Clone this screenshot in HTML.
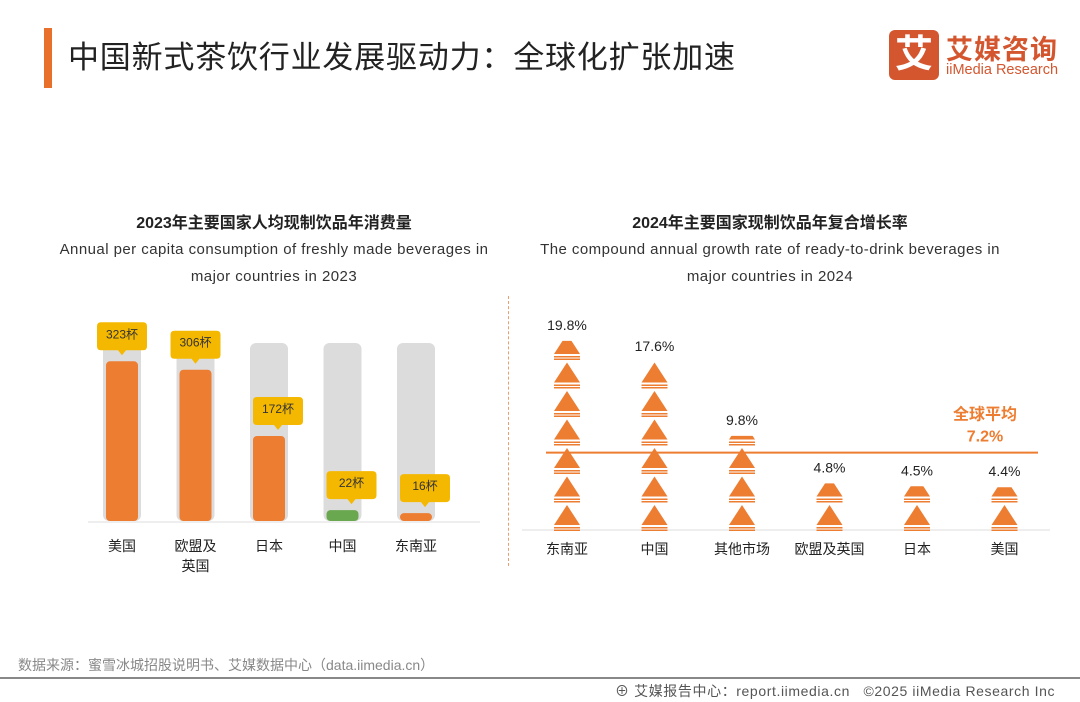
<!DOCTYPE html>
<html><head><meta charset="utf-8">
<style>
body{margin:0;width:1080px;height:702px;background:#fff;overflow:hidden;font-family:"Liberation Sans","Noto Sans CJK SC",sans-serif;position:relative}
.abs{position:absolute}
</style></head><body>
<div class="abs" style="left:44px;top:28px;width:8px;height:60px;background:#E8702A"></div>
<div class="abs" style="left:68px;top:32px;font-size:31px;letter-spacing:0.8px;color:#222;">中国新式茶饮行业发展驱动力：全球化扩张加速</div>
<div class="abs" style="left:889px;top:30px;width:50px;height:50px;background:#D4562F;border-radius:6px;color:#fff;font-size:38px;font-weight:bold;text-align:center;line-height:50px">艾</div>
<div class="abs" style="left:946px;top:28px;color:#D4562F;font-size:27px;font-weight:bold;letter-spacing:1px">艾媒咨询</div>
<div class="abs" style="left:946px;top:62px;color:#D4562F;font-size:14.5px">iiMedia Research</div>

<div class="abs" style="left:24px;width:500px;top:209px;text-align:center;font-size:16px;font-weight:bold;color:#222">2023年主要国家人均现制饮品年消费量</div>
<div class="abs" style="left:14px;width:520px;top:236px;text-align:center;font-size:15px;letter-spacing:0.45px;color:#333;line-height:27px">Annual per capita consumption of freshly made beverages in<br>major countries in 2023</div>
<div class="abs" style="left:520px;width:500px;top:209px;text-align:center;font-size:16px;font-weight:bold;color:#222">2024年主要国家现制饮品年复合增长率</div>
<div class="abs" style="left:500px;width:540px;top:236px;text-align:center;font-size:15px;letter-spacing:0.45px;color:#333;line-height:27px">The compound annual growth rate of ready-to-drink beverages in<br>major countries in 2024</div>
<div class="abs" style="left:508px;top:296px;height:270px;border-left:1px dashed #E8A070"></div>

<svg class="abs" style="left:0;top:0" width="1080" height="702" id="svg"></svg>

<div class="abs" style="left:18px;top:655px;font-size:14px;color:#888">数据来源：蜜雪冰城招股说明书、艾媒数据中心（data.iimedia.cn）</div>
<div class="abs" style="left:0;top:677px;width:1080px;height:2px;background:#888"></div>
<div class="abs" style="left:615px;top:681px;font-size:14px;letter-spacing:0.6px;color:#555;white-space:nowrap">⊕ 艾媒报告中心：report.iimedia.cn &nbsp;&nbsp;©2025 iiMedia Research Inc</div>

<script>
const leftCats=["美国","欧盟及英国","日本","中国","东南亚"];
const leftVals=[323,306,172,22,16];
const leftMax=360;
const rightCats=["东南亚","中国","其他市场","欧盟及英国","日本","美国"];
const rightVals=[19.8,17.6,9.8,4.8,4.5,4.4];
const globalAvg=7.2;

const NS="http://www.w3.org/2000/svg";
const svg=document.getElementById('svg');
function mk(t,a,p){const e=document.createElementNS(NS,t);for(const k in a)e.setAttribute(k,a[k]);(p||svg).appendChild(e);return e;}

// left chart
const lBase=521, lH=178;
const lx=i=>122+i*73.5;
const ly=v=>lBase-v/leftMax*lH;
let ax=mk('line',{x1:88,x2:480,y1:lBase+1,y2:lBase+1,stroke:'#ddd','stroke-width':1});

leftCats.forEach((c,i)=>{
  const x=lx(i), v=leftVals[i];
  const bg=mk('rect',{x:x-19,y:ly(leftMax),width:38,height:lH,rx:6,fill:'#DCDCDC'});
  
  const top=ly(v);
  const b=mk('rect',{x:x-16,y:top,width:32,height:Math.max(lBase-top,6),rx:4,fill:i==3?'#6AA84F':'#ED7D31'});
  
  const cy=top-24, cw=50;
  const cx=x+(i>=2?9:0);
  const call=mk('path',{d:`M${cx-cw/2+4},${cy-15} h${cw-8} q4,0 4,4 v20 q0,4 -4,4 h${-(cw/2-8)} l-4,5 l-4,-5 h${-(cw/2-8)} q-4,0 -4,-4 v-20 q0,-4 4,-4z`,fill:'#F5B800'});
  
  const t=mk('text',{x:cx,y:cy+1,'text-anchor':'middle','font-size':12,fill:'#333'});t.textContent=v+'杯';
  
  const lab=mk('text',{x:x,y:551,'text-anchor':'middle','font-size':14,fill:'#222'});
  
  if(c.length>4){const a=mk('tspan',{x:x},lab);a.textContent=c.slice(0,3);const b2=mk('tspan',{x:x,dy:20},lab);b2.textContent=c.slice(3);}
  else lab.textContent=c;
});

// right chart
const rBase=529, unit=3, unitH=28.5, pxPer=unitH/unit;
const rx=i=>567+i*87.5;
const ry=v=>rBase-v*pxPer;
const ax2=mk('line',{x1:522,x2:1050,y1:rBase+1,y2:rBase+1,stroke:'#ddd','stroke-width':1});

const defs=mk('defs',{});
rightCats.forEach((c,i)=>{
  const x=rx(i), v=rightVals[i], top=ry(v);
  const cp=mk('clipPath',{id:'cp'+i},defs);
  mk('rect',{x:x-30,y:top,width:60,height:rBase-top+2},cp);
  const g=mk('g',{'clip-path':`url(#cp${i})`});
  
  const n=Math.ceil(v/unit);
  for(let k=0;k<n;k++){
    const yb=rBase-k*unitH;
    mk('path',{d:`M${x-13},${yb-4} L${x},${yb-24} L${x+13},${yb-4}Z`,fill:'#ED7D31'},g);
    mk('rect',{x:x-13,y:yb-2,width:26,height:1.5,fill:'#ED7D31'},g);
    mk('rect',{x:x-13,y:yb+0.5,width:26,height:1.5,fill:'#ED7D31'},g);
  }
  const t=mk('text',{x:x,y:top-11,'text-anchor':'middle','font-size':14,fill:'#222'});t.textContent=v.toFixed(1)+'%';
  
  const lab=mk('text',{x:x,y:554,'text-anchor':'middle','font-size':14,fill:'#222'});lab.textContent=c;
  
});
const avgY=ry(globalAvg)-8;
const al=mk('line',{x1:546,x2:1038,y1:avgY,y2:avgY,stroke:'#ED7D31','stroke-width':2});

const at=mk('text',{x:985,y:avgY-33,'text-anchor':'middle','font-size':16,'font-weight':'bold',fill:'#ED7D31'});at.textContent='全球平均';

const at2=mk('text',{x:985,y:avgY-11,'text-anchor':'middle','font-size':16,'font-weight':'bold',fill:'#ED7D31'});at2.textContent=globalAvg.toFixed(1)+'%';

</script>
</body></html>
